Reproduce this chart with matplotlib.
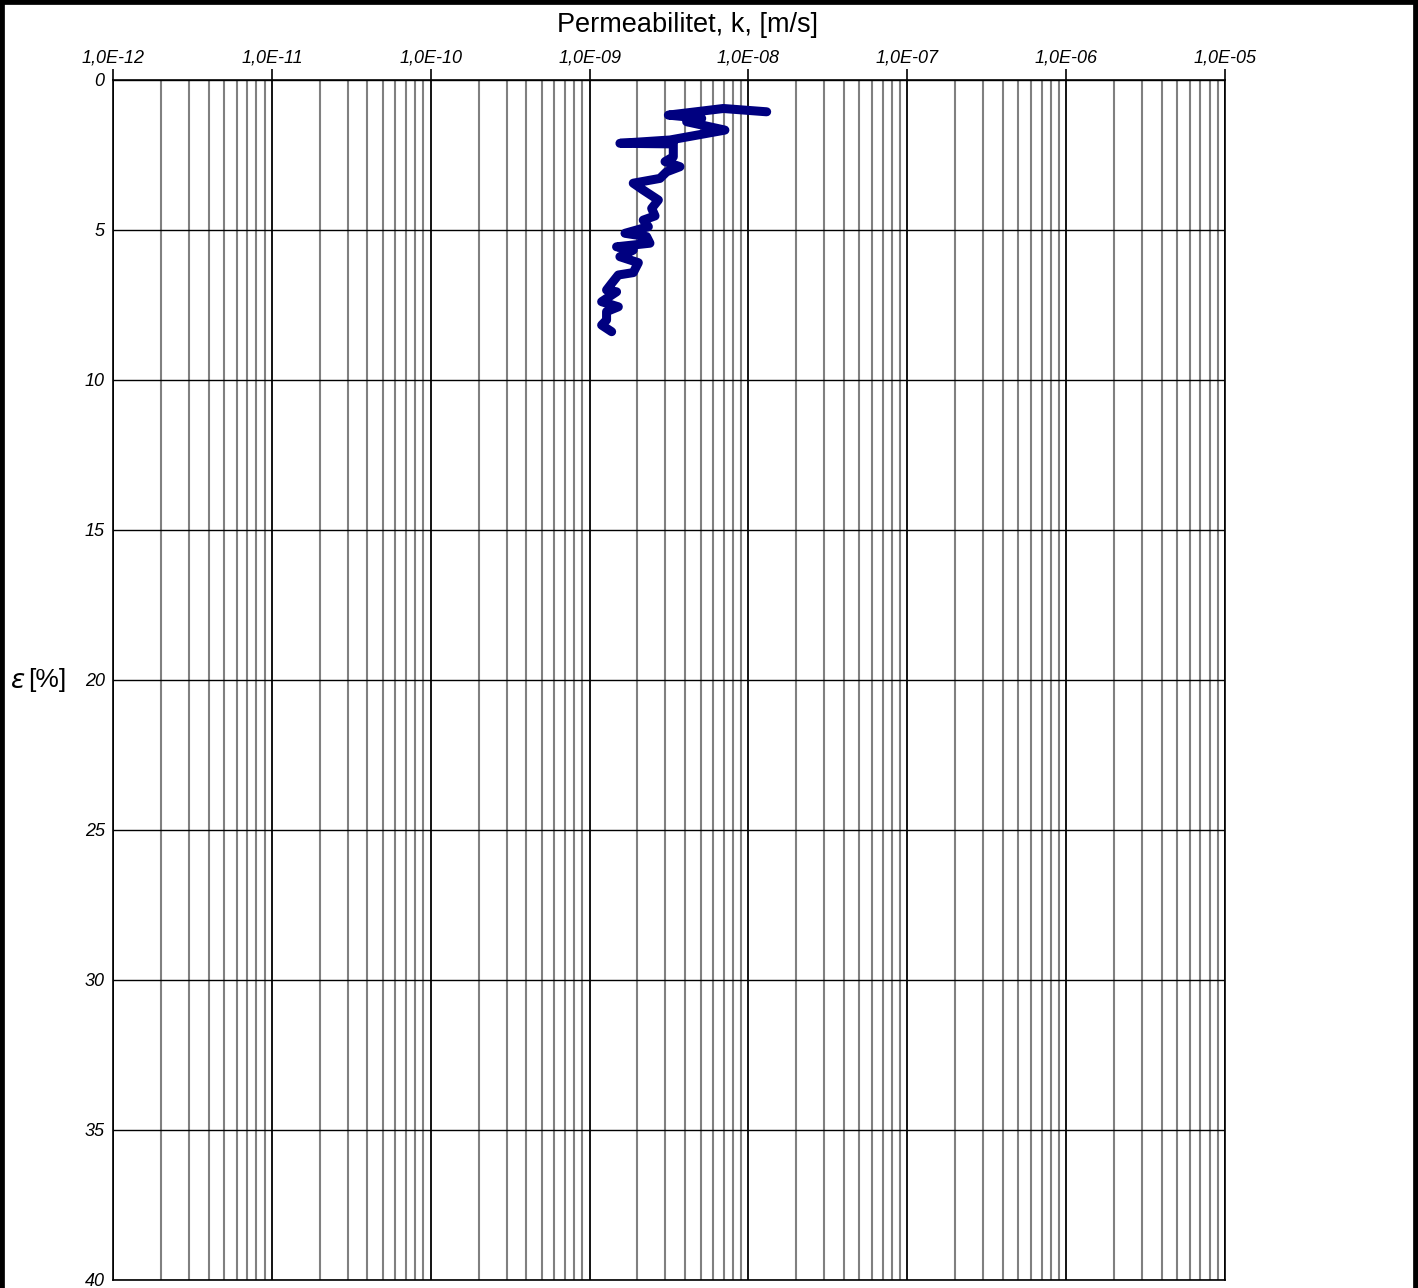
import numpy as np
import matplotlib
matplotlib.use("Agg")
import matplotlib.pyplot as plt
from matplotlib.ticker import FixedLocator, LogLocator, NullFormatter
from matplotlib.lines import Line2D

# Data: log10 of permeability k [m/s] versus strain eps [%]
log_k = [-7.885, -8.158, -8.504, -8.294, -8.389, -8.148, -8.494, -8.809, -8.473,
         -8.473, -8.525, -8.431, -8.515, -8.557, -8.725, -8.662, -8.567, -8.609,
         -8.588, -8.662, -8.630, -8.777, -8.641, -8.620, -8.830, -8.725, -8.809,
         -8.693, -8.725, -8.819, -8.861, -8.893, -8.830, -8.924, -8.819, -8.893,
         -8.893, -8.924, -8.861]
eps = [1.06, 0.95, 1.17, 1.28, 1.39, 1.67, 2.00, 2.11, 2.13,
       2.56, 2.72, 2.89, 3.06, 3.28, 3.44, 3.67, 4.00, 4.28,
       4.53, 4.67, 4.89, 5.11, 5.22, 5.44, 5.56, 5.67, 5.89,
       6.09, 6.42, 6.50, 6.78, 7.00, 7.06, 7.39, 7.56, 7.72,
       8.00, 8.17, 8.39]
x_ticks = [1e-12, 1e-11, 1e-10, 1e-9, 1e-8, 1e-7, 1e-6, 1e-5]
x_labels = ["1,0E-12", "1,0E-11", "1,0E-10", "1,0E-09", "1,0E-08", "1,0E-07", "1,0E-06", "1,0E-05"]
y_ticks = [0, 5, 10, 15, 20, 25, 30, 35, 40]

plt.rcParams['font.family'] = ['Liberation Sans', 'DejaVu Sans']

W, H = 1418, 1288
fig = plt.figure(figsize=(W / 100, H / 100), dpi=100)
left, right, top, bottom = 113, 1225, 80, 1280
ax = fig.add_axes([left / W, 1 - bottom / H, (right - left) / W, (bottom - top) / H])

k = [10 ** v for v in log_k]
ax.plot(k, eps, color='#000080', lw=6.5, solid_capstyle='round', solid_joinstyle='round', zorder=5)

ax.set_xscale('log')
ax.set_xlim(1e-12, 1e-5)
ax.set_ylim(40, 0)

ax.xaxis.tick_top()
ax.xaxis.set_major_locator(FixedLocator(x_ticks))
ax.set_xticklabels(x_labels, fontsize=13, style='italic')
ax.xaxis.set_minor_locator(LogLocator(base=10, subs=np.arange(2, 10)))
ax.xaxis.set_minor_formatter(NullFormatter())
ax.tick_params(axis='x', which='major', direction='out', length=8, width=1.2, pad=2)
ax.tick_params(axis='x', which='minor', length=0)

ax.set_yticks(y_ticks)
ax.set_yticklabels([str(v) for v in y_ticks], fontsize=13, style='italic')
ax.tick_params(axis='y', which='major', length=0, pad=6)

ax.grid(True, which='major', axis='x', color='black', lw=1.3)
ax.grid(True, which='minor', axis='x', color='#808080', lw=1.5)
ax.grid(True, which='major', axis='y', color='black', lw=1.0)
ax.set_axisbelow(True)

for s in ax.spines.values():
    s.set_color('black')
    s.set_linewidth(1.2)

ax.set_xlabel("Permeabilitet, k, [m/s]", fontsize=19.5)
ax.xaxis.set_label_position('top')
ax.xaxis.labelpad = 12
ax.xaxis.label.set_x(0.517)

fig.text(10 / W, 1 - 680 / H, r"$\varepsilon$", fontsize=19, va='center', ha='left',
         family='DejaVu Serif')
fig.text(28 / W, 1 - 680 / H, "[%]", fontsize=19, va='center', ha='left')

# figure border (top, left, right)
for xs, ys in [([0, 1], [1, 1]), ([0, 0], [0, 1]), ([1, 1], [0, 1])]:
    fig.add_artist(Line2D(xs, ys, transform=fig.transFigure, color='black', lw=7, clip_on=False))

fig.savefig("out.png", dpi=100)
